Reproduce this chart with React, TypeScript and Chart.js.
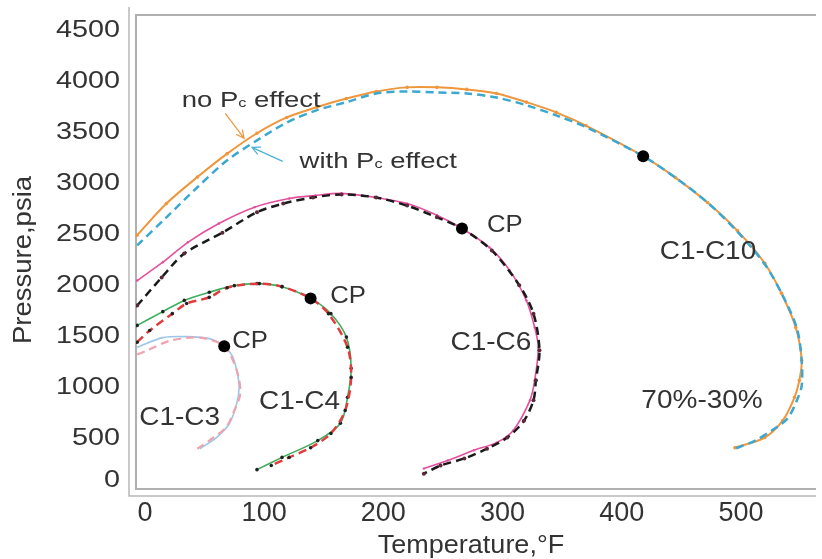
import React, { useEffect, useRef } from "react";
import { Chart, registerables } from "chart.js";

Chart.register(...registerables);

// ---------- data (Temperature °F, Pressure psia) ----------
const xTicks = [0, 100, 200, 300, 400, 500];
const yTicks = [0, 500, 1000, 1500, 2000, 2500, 3000, 3500, 4000, 4500];

const c10NoPcT = [-6.5, 18, 44, 69, 94, 119, 144, 169, 194, 220, 245, 270, 295, 320, 345, 370, 418, 445, 472, 497, 520, 534, 546, 551, 549, 545, 535, 520, 495];
const c10NoPcP = [2490, 2800, 3060, 3290, 3490, 3645, 3745, 3830, 3900, 3940, 3940, 3920, 3880, 3795, 3695, 3565, 3265, 3055, 2810, 2535, 2215, 1920, 1585, 1260, 1065, 900, 670, 505, 405];

const c10WithPcT = [-6.5, 18, 44, 69, 94, 119, 144, 169, 194, 220, 245, 270, 295, 320, 345, 370, 418, 445, 472, 497, 520, 535, 547, 551, 551, 547, 539, 526, 512, 495];
const c10WithPcP = [2390, 2665, 2960, 3225, 3420, 3595, 3715, 3795, 3880, 3900, 3890, 3880, 3840, 3765, 3665, 3550, 3265, 3055, 2810, 2525, 2205, 1900, 1575, 1260, 1015, 870, 690, 575, 475, 395];

const c6NoPcT = [-6.5, 15, 36, 62, 92, 121, 143, 165, 194, 220, 245, 266, 289, 306, 320, 327, 330, 327, 323, 309, 295, 276, 254, 234];
const c6NoPcP = [2045, 2225, 2420, 2605, 2765, 2850, 2880, 2900, 2860, 2800, 2685, 2555, 2370, 2145, 1850, 1585, 1390, 1065, 870, 575, 455, 380, 280, 200];

const c6WithPcT = [-6.5, 14, 33, 65, 94, 116, 141, 165, 194, 220, 245, 266, 291, 314, 326, 331, 328, 326, 318, 304, 287, 268, 248, 234];
const c6WithPcP = [1800, 2075, 2310, 2515, 2715, 2800, 2860, 2890, 2860, 2780, 2665, 2555, 2340, 2000, 1720, 1360, 1065, 870, 670, 505, 395, 300, 230, 150];

const c4NoPcT = [-6.5, 15, 33, 54, 75, 94, 115, 139, 156, 169, 173, 170, 164, 145, 115, 94];
const c4NoPcP = [1605, 1740, 1850, 1930, 1995, 2015, 1985, 1870, 1720, 1490, 1185, 900, 645, 475, 310, 190];

const c4WithPcT = [-6.5, 4, 23, 35, 54, 69, 96, 115, 139, 154, 170, 173, 168, 156, 139, 121, 106];
const c4WithPcP = [1440, 1555, 1720, 1820, 1880, 1975, 2015, 1985, 1870, 1720, 1390, 1095, 770, 545, 405, 310, 230];

const c3NoPcT = [-6.5, 15, 35, 54, 66.5, 73, 77, 79, 77, 71, 60, 46];
const c3NoPcP = [1390, 1485, 1495, 1475, 1400, 1310, 1165, 995, 840, 645, 505, 395];

const c3WithPcT = [-6.5, 2, 21, 46, 66.5, 77, 80, 75, 68, 54, 44];
const c3WithPcP = [1320, 1360, 1455, 1485, 1400, 1165, 935, 770, 605, 475, 395];

const cpT = [418, 266, 139, 66.5];
const cpP = [3265, 2555, 1870, 1400];

// text annotations (data coordinates of text centres)
const labelTexts = ["C1-C10", "C1-C6", "70%-30%", "C1-C4", "C1-C3", "CP", "CP", "CP"];
const labelT = [472.4, 290.3, 467.4, 129.7, 29.1, 301.9, 170.5, 88.2];
const labelP = [2321, 1428, 859, 849, 692, 2586, 1889, 1447];

// arrows: [fromT, fromP, toT, toP]
const arrowOrange = [67.4, 3685, 83.2, 3440];
const arrowBlue = [115.6, 3214, 89.8, 3351];

const FONT = '"Liberation Sans", Arial, Helvetica, sans-serif';
const TXT = "#333333";

function pts(T: number[], P: number[]) {
  return T.map((t, i) => ({ x: t, y: P[i] }));
}

function series(T: number[], P: number[], color: string, width: number, dash: number[], pr: number, pc: string) {
  return {
    data: pts(T, P),
    showLine: true,
    borderColor: color,
    borderWidth: width,
    borderDash: dash,
    pointRadius: pr,
    pointBackgroundColor: pc,
    pointBorderWidth: 0,
    tension: 0.3,
    fill: false,
  };
}

function drawText(ctx: CanvasRenderingContext2D, text: string, x: number, y: number, size: number, align: CanvasTextAlign, sx: number) {
  ctx.save();
  ctx.translate(x, y);
  ctx.scale(sx, 1);
  ctx.font = `${size}px ${FONT}`;
  ctx.textAlign = align;
  ctx.textBaseline = "middle";
  ctx.fillStyle = TXT;
  ctx.fillText(text, 0, 0);
  ctx.restore();
}

function drawSubText(ctx: CanvasRenderingContext2D, parts: [string, number][], x: number, y: number, sx: number) {
  ctx.save();
  ctx.translate(x, y);
  ctx.scale(sx, 1);
  ctx.textAlign = "left";
  ctx.textBaseline = "alphabetic";
  ctx.fillStyle = TXT;
  let cx = 0;
  for (const [t, s] of parts) {
    ctx.font = `${s}px ${FONT}`;
    ctx.fillText(t, cx, 0);
    cx += ctx.measureText(t).width;
  }
  ctx.restore();
}

function drawArrow(ctx: CanvasRenderingContext2D, x1: number, y1: number, x2: number, y2: number, color: string) {
  ctx.save();
  ctx.strokeStyle = color;
  ctx.lineWidth = 1.2;
  ctx.beginPath();
  ctx.moveTo(x1, y1);
  ctx.lineTo(x2, y2);
  const ang = Math.atan2(y2 - y1, x2 - x1);
  const L = 9;
  ctx.moveTo(x2 - L * Math.cos(ang - 0.45), y2 - L * Math.sin(ang - 0.45));
  ctx.lineTo(x2, y2);
  ctx.lineTo(x2 - L * Math.cos(ang + 0.45), y2 - L * Math.sin(ang + 0.45));
  ctx.stroke();
  ctx.restore();
}

const decorPlugin = {
  id: "decor",
  beforeDatasetsDraw(chart: any) {
    const { ctx, chartArea: a } = chart;
    ctx.save();
    ctx.strokeStyle = "#b0b0b0";
    ctx.lineWidth = 2;
    ctx.beginPath();
    ctx.moveTo(a.right, a.top);
    ctx.lineTo(a.left, a.top);
    ctx.lineTo(a.left, a.bottom);
    ctx.lineTo(a.right, a.bottom);
    ctx.stroke();
    ctx.strokeStyle = "#b8b8b8";
    ctx.lineWidth = 1.5;
    ctx.beginPath();
    ctx.moveTo(a.left - 7, a.top - 8);
    ctx.lineTo(a.left - 7, a.bottom + 7);
    ctx.lineTo(a.right, a.bottom + 7);
    ctx.stroke();
    ctx.restore();
  },
  afterDraw(chart: any) {
    const { ctx, chartArea: a } = chart;
    const xs = chart.scales.x;
    const ys = chart.scales.y;
    // y tick labels
    for (const v of yTicks) {
      const py = Math.min(ys.getPixelForValue(v), a.bottom - 9);
      drawText(ctx, String(v), a.left - 16, py, 24, "right", 1.2);
    }
    // x tick labels
    for (const v of xTicks) {
      drawText(ctx, String(v), xs.getPixelForValue(v), a.bottom + 25, 27, "center", 1.0);
    }
    // axis titles
    drawText(ctx, "Temperature,\u00B0F", 471, a.bottom + 57, 25, "center", 1.08);
    ctx.save();
    ctx.translate(24, 260);
    ctx.rotate(-Math.PI / 2);
    ctx.scale(1.1, 1);
    ctx.font = `25px ${FONT}`;
    ctx.textAlign = "center";
    ctx.textBaseline = "middle";
    ctx.fillStyle = TXT;
    ctx.fillText("Pressure,psia", 0, 0);
    ctx.restore();
    // curve labels
    for (let i = 0; i < labelTexts.length; i++) {
      const isCP = labelTexts[i] === "CP";
      drawText(ctx, labelTexts[i], xs.getPixelForValue(labelT[i]), ys.getPixelForValue(labelP[i]), isCP ? 24 : 25, "center", isCP ? 1.07 : 1.12);
    }
    // Pc effect labels
    drawSubText(ctx, [["no P", 22], ["c", 13], [" effect", 22]], xs.getPixelForValue(30.8), ys.getPixelForValue(3744), 1.25);
    drawSubText(ctx, [["with P", 22], ["c", 13], [" effect", 22]], xs.getPixelForValue(129.7), ys.getPixelForValue(3145), 1.25);
    drawArrow(ctx, xs.getPixelForValue(arrowOrange[0]), ys.getPixelForValue(arrowOrange[1]), xs.getPixelForValue(arrowOrange[2]), ys.getPixelForValue(arrowOrange[3]), "#F0963C");
    drawArrow(ctx, xs.getPixelForValue(arrowBlue[0]), ys.getPixelForValue(arrowBlue[1]), xs.getPixelForValue(arrowBlue[2]), ys.getPixelForValue(arrowBlue[3]), "#4AB0D6");
  },
};

export default function App() {
  const ref = useRef<HTMLCanvasElement | null>(null);
  useEffect(() => {
    if (!ref.current) return;
    const DASH = [8, 5];
    const chart = new Chart(ref.current, {
      type: "scatter",
      data: {
        datasets: [
          { data: pts(cpT, cpP), showLine: false, pointRadius: 6, pointBackgroundColor: "#000", pointBorderWidth: 0 } as any,
          series(c10WithPcT, c10WithPcP, "#3AA8CF", 2.5, DASH, 0, "#3AA8CF"),
          series(c10NoPcT, c10NoPcP, "#F0963C", 2, [], 1.8, "#F0963C"),
          series(c6WithPcT, c6WithPcP, "#1a1a1a", 2.5, DASH, 2, "#5a2a3a"),
          series(c6NoPcT, c6NoPcP, "#E44F9E", 1.6, [], 1.2, "#E44F9E"),
          series(c4WithPcT, c4WithPcP, "#E23B3B", 2.5, DASH, 1.8, "#222"),
          series(c4NoPcT, c4NoPcP, "#3DAE5E", 1.6, [], 1.8, "#222"),
          series(c3WithPcT, c3WithPcP, "#EFA3AE", 2.2, DASH, 0, "#EFA3AE"),
          series(c3NoPcT, c3NoPcP, "#9EC6E8", 1.6, [], 0, "#9EC6E8"),
        ],
      },
      options: {
        animation: false,
        responsive: false,
        events: [],
        layout: { padding: { left: 136, right: 0, top: 15, bottom: 70 } },
        plugins: { legend: { display: false }, tooltip: { enabled: false } },
        scales: {
          x: { type: "linear", min: -7.5, max: 563, display: false },
          y: { type: "linear", min: 0, max: 4650, display: false },
        },
      },
      plugins: [decorPlugin],
    });
    return () => chart.destroy();
  }, []);
  return (
    <div style={{ position: "fixed", left: 0, top: 0, width: 822, height: 559, background: "#fff" }}>
      <canvas ref={ref} width={822} height={559} style={{ display: "block" }} />
    </div>
  );
}
